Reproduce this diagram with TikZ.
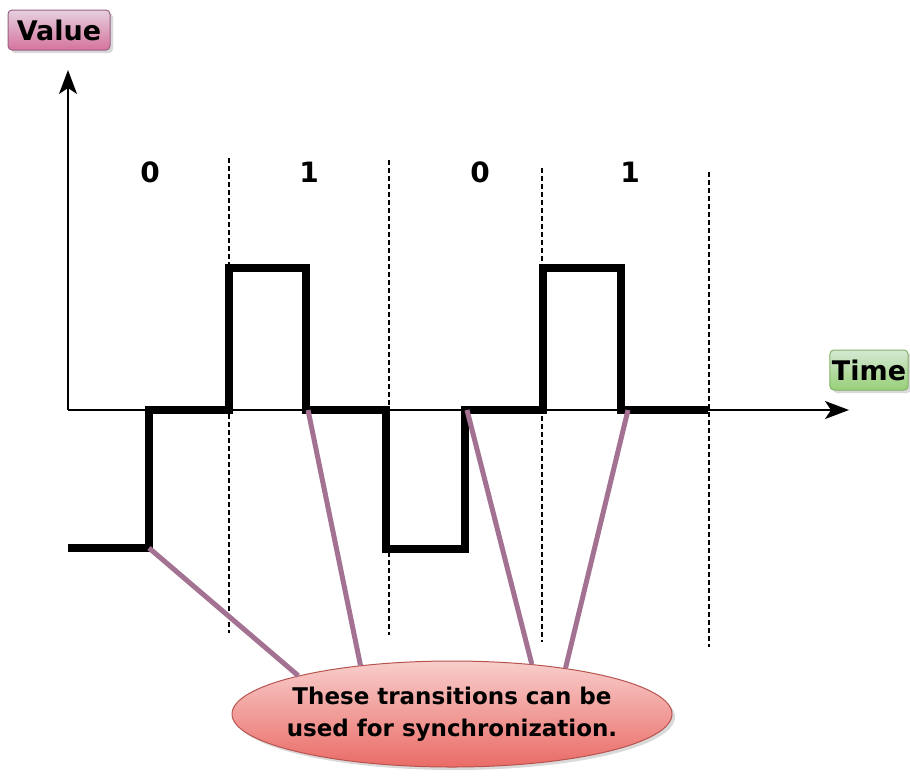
\documentclass[tikz,border=0pt]{standalone}
\usepackage{fontspec}
\setmainfont{DejaVu Sans}
\usetikzlibrary{positioning, arrows.meta, shapes.geometric, shadows}

\definecolor{pinkfill}{HTML}{E6D0DE}
\definecolor{pinkgrad}{HTML}{D5739D}
\definecolor{pinkline}{HTML}{996185}
\definecolor{greenfill}{HTML}{D5E8D4}
\definecolor{greengrad}{HTML}{97D077}
\definecolor{greenline}{HTML}{82B366}
\definecolor{redfill}{HTML}{F8CECC}
\definecolor{redgrad}{HTML}{EA6B66}
\definecolor{redline}{HTML}{B85450}

\begin{document}
\begin{tikzpicture}[x=1pt, y=-1pt,
    signal/.style={line width=8pt, line join=miter},
    axis/.style={line width=1.6pt, -{Stealth[length=24pt, width=18pt, inset=6pt]}},
    slot/.style={line width=1.4pt, dash pattern=on 5pt off 3pt},
    bit/.style={font=\bfseries\fontsize{28}{32}\selectfont},
    tag/.style={draw, rounded corners=4pt, line width=1pt, inner sep=2pt,
        font=\bfseries\fontsize{27}{30}\selectfont,
        drop shadow={shadow xshift=3pt, shadow yshift=-3pt, opacity=0.3}},
    sync/.style={line width=5pt, draw=pinkline!90!white}]

    \useasboundingbox (0,0) rectangle (910,780);

    % labels of the axes
    \node[tag, top color=pinkfill, bottom color=pinkgrad, draw=pinkline,
          minimum width=102pt, minimum height=40pt] (value) at (59,30) {Value};
    \node[tag, top color=greenfill, bottom color=greengrad, draw=greenline,
          minimum width=78pt, minimum height=40pt] (time) at (869,370) {Time};

    % axes
    \coordinate (o) at (68,410);
    \coordinate (ytop) at (68,70);
    \coordinate (xend) at (849,410);
    \draw[axis] (o) -- (ytop);
    \draw[axis] (o) -- (xend);

    % bit slots
    \foreach \x/\a/\b in {229/158/633, 389/160/635, 542/168/642, 709/172/647}
        \draw[slot] (\x,\a) -- (\x,\b);

    \node[bit] (b0) at (150,172) {0};
    \node[bit] (b1) at (309,172) {1};
    \node[bit] (b2) at (480,172) {0};
    \node[bit] (b3) at (630,172) {1};

    % encoded signal
    \draw[signal] (68,548) -- (149,548) coordinate (t1) -- (149,410) -- (229,410)
        -- (229,268) -- (306,268) -- (306,410) -- (386,410) -- (386,549)
        -- (465,549) -- (465,410) -- (543,410) -- (543,268) -- (621,268)
        -- (621,410) -- (708,410);
    \coordinate (t2) at (308,410);
    \coordinate (t3) at (467,410);
    \coordinate (t4) at (628,410);

    \node[ellipse, draw=redline, line width=1pt, top color=redfill, bottom color=redgrad,
          minimum width=440pt, minimum height=106pt, inner xsep=-12pt, inner ysep=0pt,
          align=center, font=\bfseries\fontsize{23}{32}\selectfont,
          drop shadow={shadow xshift=3pt, shadow yshift=-3pt, opacity=0.3}]
          (note) at (452,714) {These transitions can be\\used for synchronization.};

    \draw[sync] (t1) -- (note.166);
    \draw[sync] (t2) -- (note.152);
    \draw[sync] (t3) -- (note.32);
    \draw[sync] (t4) -- (note.22);

\end{tikzpicture}
\end{document}
